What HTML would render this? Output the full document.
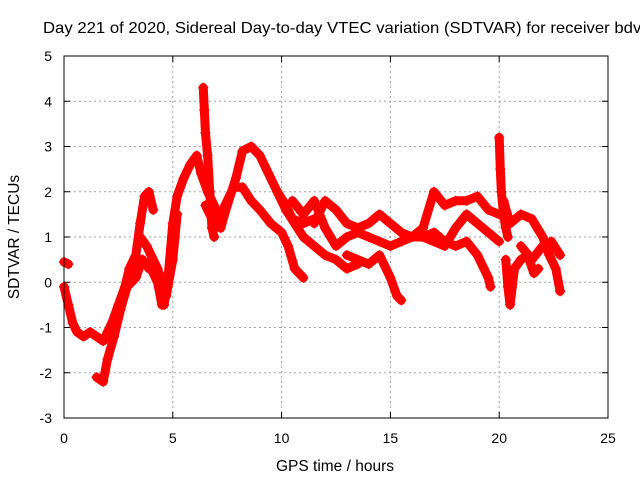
<!DOCTYPE html>
<html><head><meta charset="utf-8"><style>
body{margin:0;background:#fff}
svg{display:block;font-family:"Liberation Sans",sans-serif}
</style></head><body>
<svg id="chart" width="640" height="480">
<text x="43" y="33" font-size="16" textLength="602" lengthAdjust="spacingAndGlyphs">Day 221 of 2020, Sidereal Day-to-day VTEC variation (SDTVAR) for receiver bdvl</text>
<text x="335" y="471" font-size="15.5" text-anchor="middle">GPS time / hours</text>
<text x="19" y="237" font-size="15.5" text-anchor="middle" transform="rotate(-90 19 237)">SDTVAR / TECUs</text>
<g id="grid"></g><g id="ticks"></g><g id="marks"></g>
<rect x="64" y="56" width="544" height="362" fill="none" stroke="#000" stroke-width="1"/>
</svg>
<script>
const xTicks=[0,5,10,15,20,25];
const yTicks=[-3,-2,-1,0,1,2,3,4,5];
const trackA=[[0,-0.1],[0.2,-0.5],[0.4,-0.9],[0.6,-1.1],[0.9,-1.2],[1.2,-1.1],[1.5,-1.2],[1.8,-1.3],[2.0,-1.1],[2.2,-0.9],[2.5,-0.5],[2.8,-0.1],[3.0,0.3],[3.3,0.6],[3.5,1.3],[3.7,1.9],[3.9,2.0],[4.1,1.6]];
const trackB=[[0,0.45],[0.2,0.4]];
const trackC=[[1.5,-2.1],[1.8,-2.2],[2.0,-1.7],[2.3,-1.2],[2.6,-0.6],[2.9,-0.1],[3.3,0.1],[3.6,0.5],[3.9,0.3]];
const trackD=[[3.5,1.0],[3.8,0.8],[4.0,0.6],[4.3,0.3],[4.5,0.0],[4.6,-0.5],[4.8,0.2],[5.0,1.3],[5.2,1.9],[5.5,2.3],[5.8,2.6],[6.1,2.8],[6.3,2.4],[6.6,2.0],[6.9,1.7],[7.2,1.2],[7.5,1.7],[7.9,2.3],[8.2,2.9],[8.6,3.0],[9.0,2.8],[9.4,2.4],[9.8,2.0],[10.2,1.7],[10.5,1.4],[11.0,1.3],[11.5,1.4]];
const trackE=[[3.3,0.3],[3.6,0.5],[4.0,0.3],[4.3,0.0],[4.5,-0.5],[4.7,-0.3],[5.0,0.5],[5.2,1.5]];
const spike1=[[6.4,4.3],[6.45,3.8],[6.5,3.3],[6.6,2.8],[6.7,2.0],[6.8,1.2],[6.9,1.0]];
const trackF=[[6.5,1.7],[6.9,1.3],[7.3,1.6],[7.8,2.1],[8.2,2.1],[8.6,1.8],[9.0,1.6],[9.5,1.3],[10.0,1.1],[10.3,0.8],[10.6,0.3],[11.0,0.1]];
const trackG=[[9.8,2.0],[10.2,1.6],[10.6,1.3],[11,1.0],[11.5,0.8],[12,0.6],[12.5,0.5],[13,0.3],[13.5,0.4]];
const trackH=[[10.5,1.8],[11,1.5],[11.5,1.8],[12,1.2],[12.5,0.8],[13,1.0],[13.5,1.1],[14,1.0],[14.5,0.9],[15,0.8],[15.5,0.9],[16,1.0],[16.5,1.0],[17,1.1],[17.5,0.9],[18,0.8],[18.5,0.9],[19,0.6],[19.3,0.3],[19.5,0.1],[19.6,-0.1]];
const trackI=[[11.5,1.3],[12,1.8],[12.5,1.6],[13,1.3],[13.5,1.2],[14,1.3],[14.5,1.5],[15,1.3],[15.5,1.1],[16,1.0],[16.5,1.2],[17,2.0],[17.5,1.7],[18,1.8],[18.5,1.8],[19,1.9],[19.5,1.6],[20,1.5]];
const trackJ=[[13,0.6],[14,0.4],[14.5,0.6],[15,0.1],[15.3,-0.3],[15.5,-0.4]];
const trackK=[[16.5,1.0],[17.5,0.8],[18,1.2],[18.5,1.5],[19,1.3],[19.5,1.1],[20,0.9]];
const spike2=[[20,3.2],[20.05,2.5],[20.1,2.0],[20.2,1.5],[20.3,1.2],[20.4,1.0]];
const trackL=[[20.3,0.5],[20.4,-0.1],[20.5,-0.5],[20.7,0.3],[21,0.5],[21.3,0.6],[21.6,0.2],[21.8,0.3]];
const trackM=[[20.2,1.8],[20.5,1.3],[21,1.5],[21.5,1.4],[22,1.0],[22.3,0.6],[22.6,0.3],[22.8,-0.2]];
const trackN=[[21,0.8],[21.5,0.5],[22,0.8],[22.4,0.9],[22.8,0.6]];
const tracks=[trackA,trackB,trackC,trackD,trackE,spike1,trackF,trackG,trackH,trackI,trackJ,trackK,spike2,trackL,trackM,trackN];

const NS='http://www.w3.org/2000/svg';
const X0=64,X1=608,Y0=418,Y1=56,xmin=0,xmax=25,ymin=-3,ymax=5;
function sx(v){return X0+(v-xmin)/(xmax-xmin)*(X1-X0);}
function sy(v){return Y0-(v-ymin)/(ymax-ymin)*(Y0-Y1);}
function mk(tag,attrs,parent){const e=document.createElementNS(NS,tag);for(const k in attrs)e.setAttribute(k,attrs[k]);parent.appendChild(e);return e;}
const grid=document.getElementById('grid'),ticks=document.getElementById('ticks'),marks=document.getElementById('marks');
xTicks.forEach(t=>{
  const x=sx(t);
  if(t>xmin&&t<xmax){const g=mk('line',{x1:x,x2:x,y1:Y0,y2:Y1,stroke:'#a0a0a0','stroke-dasharray':'2,3'},grid);
  
  }
  mk('line',{x1:x,x2:x,y1:Y0,y2:Y0-6,stroke:'#000'},ticks);
  mk('line',{x1:x,x2:x,y1:Y1,y2:Y1+6,stroke:'#000'},ticks);
  const tx=mk('text',{x:x,y:Y0+25,'font-size':14,'text-anchor':'middle'},ticks);tx.textContent=t;
  
  
});
yTicks.forEach(t=>{
  const y=sy(t);
  if(t>ymin&&t<ymax){const g=mk('line',{x1:X0,x2:X1,y1:y,y2:y,stroke:'#a0a0a0','stroke-dasharray':'2,3'},grid);
  
  }
  mk('line',{x1:X0,x2:X0+6,y1:y,y2:y,stroke:'#000'},ticks);
  mk('line',{x1:X1,x2:X1-6,y1:y,y2:y,stroke:'#000'},ticks);
  const tx=mk('text',{x:X0-12,y:y+5,'font-size':14,'text-anchor':'end'},ticks);tx.textContent=t;
  
  
});
tracks.forEach((tr,i)=>{
  const pl=mk('polyline',{points:tr.map(p=>sx(p[0])+','+sy(p[1])).join(' '),fill:'none',stroke:'#f00','stroke-width':9,'stroke-linejoin':'round','stroke-linecap':'round'},marks);
  
  
  tr.forEach(p=>{
    const x=sx(p[0]),y=sy(p[1]);
    const m=mk('path',{d:`M${x-5},${y}H${x+5}M${x},${y-5}V${y+5}`,stroke:'#f00','stroke-width':1.5},marks);
    
    
  });
});
</script>
</body></html>
